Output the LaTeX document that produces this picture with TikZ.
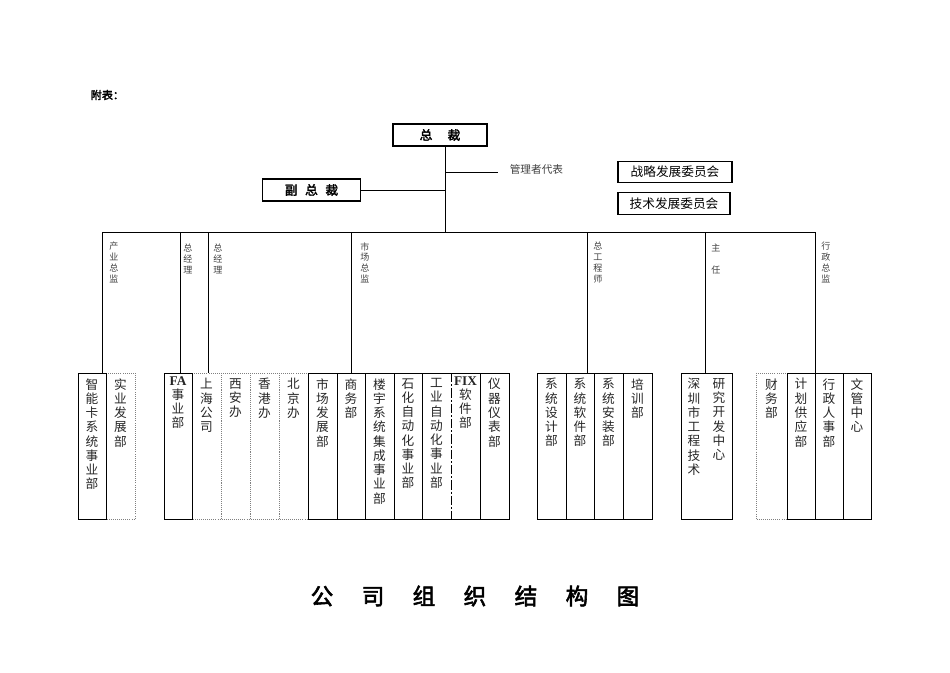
\documentclass[tikz,border=0pt]{standalone}
\usepackage{fontspec}
\setmainfont{Liberation Serif}
\newfontfamily\cjk{Noto Sans CJK SC}
\newfontfamily\cjkb[FakeBold=2.5]{Noto Sans CJK SC}
\begin{document}
\begin{tikzpicture}[x=0.75pt,y=-0.75pt,line width=0.55pt,
  topbox/.style={draw,line width=0.9pt,minimum height=16.5pt,font=\cjkb\fontsize{9.5}{10}\selectfont,inner sep=0pt},
  combox/.style={draw,line width=0.8pt,minimum height=16pt,font=\cjk\fontsize{9.5}{10}\selectfont,inner sep=0pt},
  lab/.style={anchor=north,align=center,font=\cjk\fontsize{6.8}{8.2}\selectfont,text=black!75,inner sep=0pt},
  celltxt/.style={anchor=north,align=center,font=\cjk\fontsize{9.5}{10.7}\selectfont,text=black!85,inner sep=0pt},
  dcell/.style={draw,densely dotted,gray},
  scell/.style={draw,line width=0.75pt}]
\useasboundingbox (0,0) rectangle (950,672);
\node[anchor=west,font=\cjkb\fontsize{8.3}{9}\selectfont] (fb) at (86,95) {附表：};
% top
\node[topbox,minimum width=70.5pt] (ceo) at (440,135) {总\hspace{1.2em}裁};
\node[topbox,minimum width=74pt] (vp) at (311.5,190) {副\hspace{0.6em}总\hspace{0.6em}裁};
\node[combox,minimum width=85.5pt] (c1) at (675,172) {战略发展委员会};
\node[combox,minimum width=84pt] (c2) at (674,203.5) {技术发展委员会};
\coordinate (trunk) at (445,232);
\coordinate (mj) at (445,172);
\coordinate (vj) at (445,190);
\coordinate (mrep) at (498,172);
\draw (ceo.south -| trunk) -- (trunk);
\draw (mj) -- (mrep);
\node[anchor=west,font=\cjk\fontsize{8}{9}\selectfont,text=black!75] (mr) at (505,169) {管理者代表};
\draw (vp.east) -- (vj);
% bus
\coordinate (bl) at (102,232);
\coordinate (br) at (815,232);
\draw (bl) -- (br);
% drop labels
\node[lab] (l1) at (114,242) {产\\业\\总\\监};
\node[lab] (l2) at (188,244) {总\\经\\理};
\node[lab] (l3) at (218,244) {总\\经\\理};
\node[lab] (l4) at (365,242) {市\\场\\总\\监};
\node[lab] (l5) at (598,242) {总\\工\\程\\师};
\node[lab] (l6) at (716,244) {主\\[8pt]任};
\node[lab] (l7) at (826,242) {行\\政\\总\\监};
% boxes: dotted ones first
\foreach \a/\b in {106/135,192/221,221/250,250/279,279/308,756/787}
  \draw[dcell] (\a,373) rectangle (\b,519);
\foreach \a/\b in {78/106,164/192,308/337,337/365,365/394,394/422,480/509,
  537/566,566/594,594/623,623/652,681/732,787/815,815/843,843/871}
  \draw[scell] (\a,373) rectangle (\b,519);
\draw[scell] (451,373) -- (422,373) -- (422,519) -- (451,519);
\draw[scell] (451,373) -- (480,373) (451,519) -- (480,519);
\draw[line width=0.75pt,dash pattern=on 7pt off 1.5pt on 1.5pt off 1.5pt] (451,373) -- (451,519);
% cell texts
\node[celltxt] (t1) at (92,378) {智\\能\\卡\\系\\统\\事\\业\\部};
\node[celltxt] (t2) at (120.5,378) {实\\业\\发\\展\\部};
\node[celltxt] (t3) at (178,376) {{\rmfamily\bfseries\fontsize{10}{10}\selectfont FA}\\事\\业\\部};
\node[celltxt] (t4) at (206.5,378) {上\\海\\公\\司};
\node[celltxt] (t5) at (235.5,378) {西\\安\\办};
\node[celltxt] (t6) at (264.5,378) {香\\港\\办};
\node[celltxt] (t7) at (293.5,378) {北\\京\\办};
\node[celltxt] (t8) at (322.5,378) {市\\场\\发\\展\\部};
\node[celltxt] (t9) at (351,378) {商\\务\\部};
\node[celltxt] (t10) at (379.5,378) {楼\\宇\\系\\统\\集\\成\\事\\业\\部};
\node[celltxt] (t11) at (408,378) {石\\化\\自\\动\\化\\事\\业\\部};
\node[celltxt] (t12) at (436.5,378) {工\\业\\自\\动\\化\\事\\业\\部};
\node[celltxt] (t13) at (465.5,376) {{\rmfamily\bfseries\fontsize{10}{10}\selectfont FIX}\\软\\件\\部};
\node[celltxt] (t14) at (494.5,378) {仪\\器\\仪\\表\\部};
\node[celltxt] (t15) at (551.5,378) {系\\统\\设\\计\\部};
\node[celltxt] (t16) at (580,378) {系\\统\\软\\件\\部};
\node[celltxt] (t17) at (608.5,378) {系\\统\\安\\装\\部};
\node[celltxt] (t18) at (637.5,378) {培\\训\\部};
\node[celltxt] (t19) at (694,378) {深\\圳\\市\\工\\程\\技\\术};
\node[celltxt] (t20) at (719,378) {研\\究\\开\\发\\中\\心};
\node[celltxt] (t21) at (771.5,378) {财\\务\\部};
\node[celltxt] (t22) at (801,378) {计\\划\\供\\应\\部};
\node[celltxt] (t23) at (829,378) {行\\政\\人\\事\\部};
\node[celltxt] (t24) at (857,378) {文\\管\\中\\心};
% drops
\foreach \x in {102,180,208,351,587,705,815}
  \draw (\x,232) -- (\x,373);
% title
\node[font=\cjkb\fontsize{17}{20}\selectfont] (title) at (475,596) {公\hspace{1.25em}司\hspace{1.25em}组\hspace{1.25em}织\hspace{1.25em}结\hspace{1.25em}构\hspace{1.25em}图};
\end{tikzpicture}
\end{document}
